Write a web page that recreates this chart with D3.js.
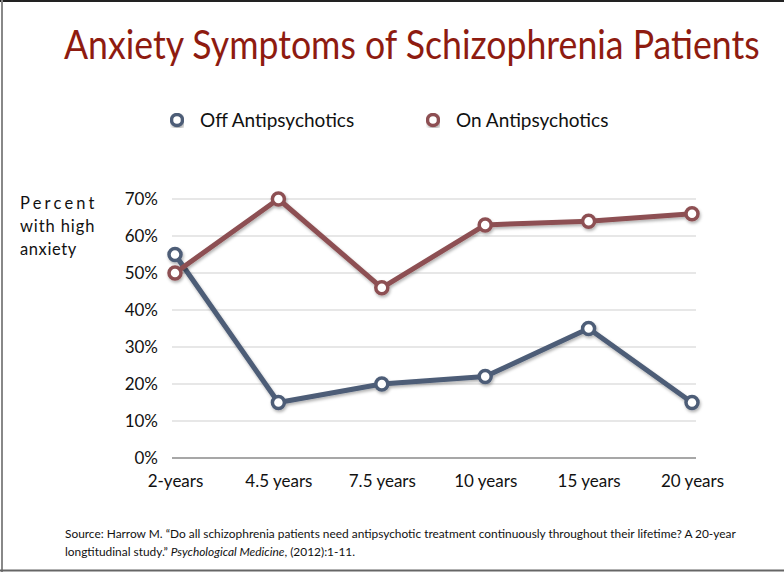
<!DOCTYPE html>
<html>
<head>
<meta charset="utf-8">
<script src="https://cdn.jsdelivr.net/npm/d3@7"></script>
<style>
  body { margin: 0; background: #fff; }
  svg { display: block; }
</style>
</head>
<body>
<script>
// chart values
var categories = ['2-years', '4.5 years', '7.5 years', '10 years', '15 years', '20 years'];
var offValues = [55, 15, 20, 22, 35, 15];
var onValues = [50, 70, 46, 63, 64, 66];
var yTicks = [0, 10, 20, 30, 40, 50, 60, 70];
var seriesNames = ['Off Antipsychotics', 'On Antipsychotics'];
var seriesColors = ['#4d5d77', '#8d5052'];

var width = 784,
    height = 572;

var svg = d3.select('body').append('svg')
    .attr('width', width)
    .attr('height', height)
    .style('font-family', 'Lato, "Open Sans", sans-serif');

/* soft shadow under the lines like the keynote original */
var defs = svg.append('defs');
var shadow = defs.append('filter').attr('id', 'shadow')
    .attr('x', '-10%').attr('y', '-10%').attr('width', '120%').attr('height', '130%');
shadow.append('feDropShadow')
    .attr('dx', 1).attr('dy', 2).attr('stdDeviation', 1.5)
    .attr('flood-color', '#000').attr('flood-opacity', 0.3);

/* slide frame */
svg.append('line').attr('x1', 0).attr('x2', width).attr('y1', 1).attr('y2', 1)
    .attr('stroke', '#222').attr('stroke-width', 2);
svg.append('line').attr('x1', 2).attr('x2', 2).attr('y1', 0).attr('y2', height)
    .attr('stroke', '#888').attr('stroke-width', 2);
svg.append('line').attr('x1', 0).attr('x2', width).attr('y1', 570.5).attr('y2', 570.5)
    .attr('stroke', '#666').attr('stroke-width', 2);

/* title - squeeze horizontally to mimic the narrow slide font */
var titleG = svg.append('g');
var title = titleG.append('text')
    .attr('x', 0).attr('y', 0)
    .attr('fill', '#8e1b10')
    .attr('font-size', 40)
    .text('Anxiety Symptoms of Schizophrenia Patients');
var tw = title.node().getComputedTextLength();
titleG.attr('transform', 'translate(64,59) scale(' + (696 / tw) + ',1)');

var x = d3.scalePoint()
    .domain(categories)
    .range([175, 692]);

var y = d3.scaleLinear()
    .domain([0, 70])
    .range([458, 199]);

/* gridlines */
svg.append('g').selectAll('line').data(yTicks).enter().append('line')
    .attr('x1', 172).attr('x2', 696)
    .attr('y1', d => y(d)).attr('y2', d => y(d))
    .attr('stroke', d => d === 0 ? '#8a8a8a' : '#cfcfcf')
    .attr('stroke-width', d => d === 0 ? 1.5 : 1);

/* y axis labels */
var yAxis = svg.append('g')
    .attr('transform', 'translate(158,0)')
    .call(d3.axisLeft(y).tickValues(yTicks).tickFormat(d => d + '%').tickSize(0).tickPadding(0));
yAxis.select('.domain').remove();
yAxis.selectAll('text')
    .attr('font-family', 'Lato, "Open Sans", sans-serif')
    .attr('font-size', 17)
    .attr('fill', '#111');

/* x axis labels */
var xAxis = svg.append('g')
    .attr('transform', 'translate(0,475)')
    .call(d3.axisBottom(x).tickSize(0).tickPadding(0));
xAxis.select('.domain').remove();
xAxis.selectAll('text')
    .attr('font-family', 'Lato, "Open Sans", sans-serif')
    .attr('font-size', 17)
    .attr('fill', '#111');

/* y axis title */
var yTitle = svg.append('text').attr('font-size', 16.5).attr('fill', '#111');
yTitle.append('tspan').attr('x', 20).attr('y', 209).attr('letter-spacing', 3.2).text('Percent');
yTitle.append('tspan').attr('x', 20).attr('y', 232).attr('letter-spacing', 0.9).text('with high');
yTitle.append('tspan').attr('x', 20).attr('y', 255).attr('letter-spacing', 0.6).text('anxiety');

/* series */
var series = [offValues, onValues];
var line = d3.line()
    .x((d, i) => x(categories[i]))
    .y(d => y(d));

series.forEach(function(vals, k) {
    var g = svg.append('g').attr('filter', 'url(#shadow)');
    g.append('path')
        .datum(vals)
        .attr('d', line)
        .attr('fill', 'none')
        .attr('stroke', seriesColors[k])
        .attr('stroke-width', 5)
        .attr('stroke-linejoin', 'round');
    g.selectAll('circle').data(vals).enter().append('circle')
        .attr('cx', (d, i) => x(categories[i]))
        .attr('cy', d => y(d))
        .attr('r', 6)
        .attr('fill', '#fff')
        .attr('stroke', seriesColors[k])
        .attr('stroke-width', 3.5);
});

/* legend */
var legendX = [177, 433];
var legend = svg.append('g').selectAll('g').data(seriesNames).enter().append('g')
    .attr('transform', (d, i) => 'translate(' + legendX[i] + ',120)');
legend.append('circle')
    .attr('r', 5.5)
    .attr('fill', '#fff')
    .attr('stroke', (d, i) => seriesColors[i])
    .attr('stroke-width', 3.5)
    .attr('filter', 'url(#shadow)');
legend.append('text')
    .attr('x', 23).attr('y', 6.5)
    .attr('font-size', 19)
    .attr('fill', '#111')
    .text(d => d);

/* source note */
var src = svg.append('g').attr('font-size', 11.9).attr('fill', '#111');
src.append('text').attr('x', 65).attr('y', 538)
    .text('Source: Harrow M. \u201CDo all schizophrenia patients need antipsychotic treatment continuously throughout their lifetime? A 20-year');
var src2 = src.append('text').attr('x', 65).attr('y', 556);
src2.append('tspan').text('longtitudinal study.\u201D ');
src2.append('tspan').attr('font-style', 'italic').text('Psychological Medicine');
src2.append('tspan').text(', (2012):1-11.');
</script>
</body>
</html>
